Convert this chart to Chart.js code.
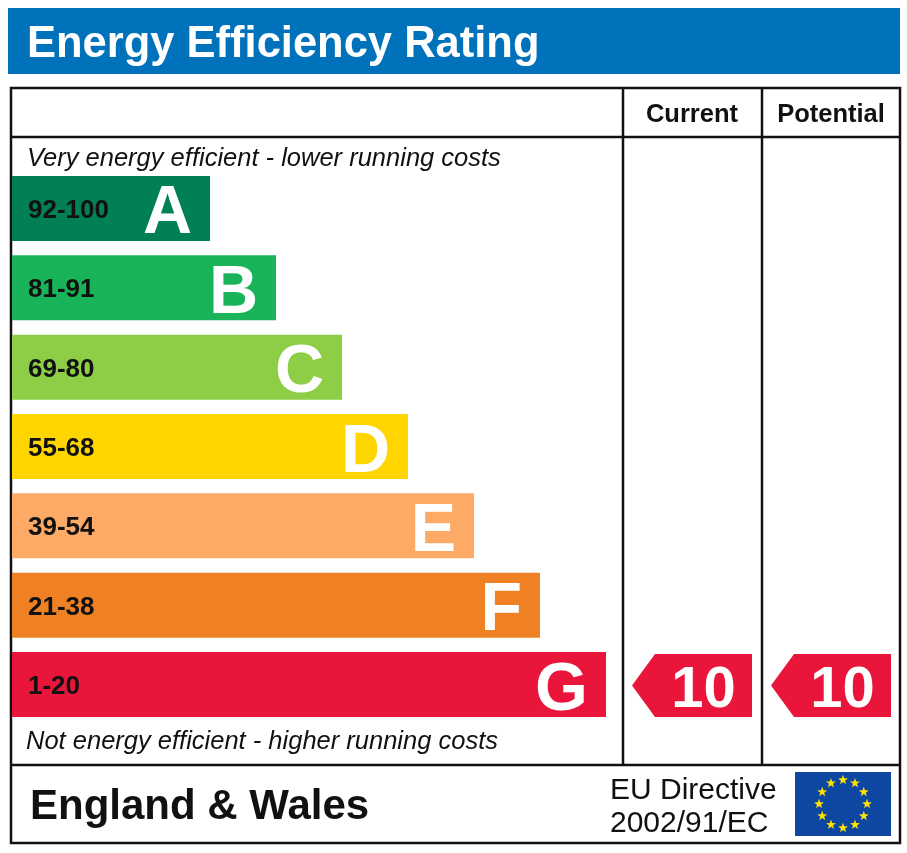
<!DOCTYPE html>
<html>
<head>
<meta charset="utf-8">
<script src="https://cdn.jsdelivr.net/npm/chart.js@4/dist/chart.umd.min.js"></script>
<style>
  html, body { margin: 0; padding: 0; background: #fff; }
  canvas { display: block; }
</style>
</head>
<body>
<canvas id="epcChart" width="907" height="853"></canvas>
<script>
let bands = ['A', 'B', 'C', 'D', 'E', 'F', 'G'];
let ranges = ['92-100', '81-91', '69-80', '55-68', '39-54', '21-38', '1-20'];
let barLengths = [3, 4, 5, 6, 7, 8, 9];
let bandColors = ['#008054', '#19b459', '#8dce46', '#ffd500', '#fcaa65', '#ef8023', '#e9153b'];
let currentRating = 10;
let potentialRating = 10;

const FONT = '"Liberation Sans", Arial, sans-serif';

// which band a rating falls into
function bandIndex(rating) {
  for (let i = 0; i < ranges.length; i++) {
    let parts = ranges[i].split('-').map(Number);
    if (rating >= parts[0] && rating <= parts[1]) return i;
  }
  return ranges.length - 1;
}

function star(ctx, cx, cy, r) {
  ctx.beginPath();
  for (let i = 0; i < 10; i++) {
    let a = -Math.PI / 2 + i * Math.PI / 5;
    let rr = i % 2 === 0 ? r : r * 0.4;
    ctx.lineTo(cx + rr * Math.cos(a), cy + rr * Math.sin(a));
  }
  ctx.closePath();
  ctx.fill();
}

function arrow(ctx, x0, x1, yTop, yBot, color, value) {
  let tip = 23;
  ctx.fillStyle = color;
  ctx.beginPath();
  ctx.moveTo(x0, (yTop + yBot) / 2);
  ctx.lineTo(x0 + tip, yTop);
  ctx.lineTo(x1, yTop);
  ctx.lineTo(x1, yBot);
  ctx.lineTo(x0 + tip, yBot);
  ctx.closePath();
  ctx.fill();
  ctx.fillStyle = '#fff';
  ctx.font = 'bold 58px ' + FONT;
  ctx.textAlign = 'center';
  ctx.textBaseline = 'alphabetic';
  ctx.fillText(String(value), (x0 + tip + x1) / 2, (yTop + yBot) / 2 + 21);
}

const frame = {
  id: 'frame',
  beforeDraw(chart) {
    let ctx = chart.ctx;
    ctx.save();
    // title band
    ctx.fillStyle = '#0072bc';
    ctx.fillRect(8, 8, 892, 66);
    ctx.fillStyle = '#fff';
    ctx.font = 'bold 43.5px ' + FONT;
    ctx.textAlign = 'left';
    ctx.textBaseline = 'alphabetic';
    ctx.fillText('Energy Efficiency Rating', 27, 57);

    // table lines
    ctx.strokeStyle = '#111';
    ctx.lineWidth = 2.5;
    ctx.strokeRect(11, 88, 889, 755);
    ctx.beginPath();
    ctx.moveTo(11, 137); ctx.lineTo(900, 137);
    ctx.moveTo(11, 765); ctx.lineTo(900, 765);
    ctx.moveTo(623, 88); ctx.lineTo(623, 765);
    ctx.moveTo(762, 88); ctx.lineTo(762, 765);
    ctx.stroke();

    ctx.fillStyle = '#111';
    ctx.font = 'bold 25.5px ' + FONT;
    ctx.textAlign = 'center';
    ctx.fillText('Current', 692, 122);
    ctx.fillText('Potential', 831, 122);

    ctx.textAlign = 'left';
    ctx.font = 'italic 25.5px ' + FONT;
    ctx.fillText('Very energy efficient - lower running costs', 27, 166);
    ctx.fillText('Not energy efficient - higher running costs', 26, 749);

    ctx.font = 'bold 42px ' + FONT;
    ctx.fillText('England & Wales', 30, 819);
    ctx.font = '30px ' + FONT;
    ctx.fillText('EU Directive', 610, 799);
    ctx.fillText('2002/91/EC', 610, 832);

    // EU flag
    ctx.fillStyle = '#0e47a1';
    ctx.fillRect(795, 772, 96, 64);
    ctx.fillStyle = '#ffe100';
    for (let i = 0; i < 12; i++) {
      let a = i * Math.PI / 6;
      star(ctx, 843 + 24 * Math.sin(a), 804 - 24 * Math.cos(a), 5.2);
    }
    ctx.restore();
  },
  afterDatasetsDraw(chart) {
    let ctx = chart.ctx;
    let bars = chart.getDatasetMeta(0).data;
    ctx.save();
    bars.forEach((bar, i) => {
      let yc = bar.y;
      ctx.textBaseline = 'alphabetic';
      ctx.fillStyle = '#111';
      ctx.textAlign = 'left';
      ctx.font = 'bold 26px ' + FONT;
      ctx.fillText(ranges[i], 28, yc + 9.5);
      ctx.fillStyle = '#fff';
      ctx.textAlign = 'right';
      ctx.font = 'bold 68px ' + FONT;
      ctx.fillText(bands[i], bar.x - 18, yc + 25);
    });
    let cur = bars[bandIndex(currentRating)];
    let pot = bars[bandIndex(potentialRating)];
    arrow(ctx, 632, 752, cur.y - cur.height / 2 + 2, cur.y + cur.height / 2, bandColors[bandIndex(currentRating)], currentRating);
    arrow(ctx, 771, 891, pot.y - pot.height / 2 + 2, pot.y + pot.height / 2, bandColors[bandIndex(potentialRating)], potentialRating);
    ctx.restore();
  }
};

let epc = document.getElementById('epcChart').getContext('2d');

new Chart(epc, {
  type: 'bar',
  data: {
    labels: bands,
    datasets: [{
      data: barLengths,
      backgroundColor: bandColors,
      borderWidth: 0,
      barPercentage: 0.82,
      categoryPercentage: 1
    }]
  },
  options: {
    indexAxis: 'y',
    responsive: false,
    animation: false,
    layout: {
      padding: { left: 12, right: 284.5, top: 168.8, bottom: 128.8 }
    },
    scales: {
      x: { display: false, min: 0, max: 9.25 },
      y: { display: false }
    },
    plugins: {
      legend: { display: false },
      tooltip: { enabled: false }
    }
  },
  plugins: [frame]
});
</script>
</body>
</html>
